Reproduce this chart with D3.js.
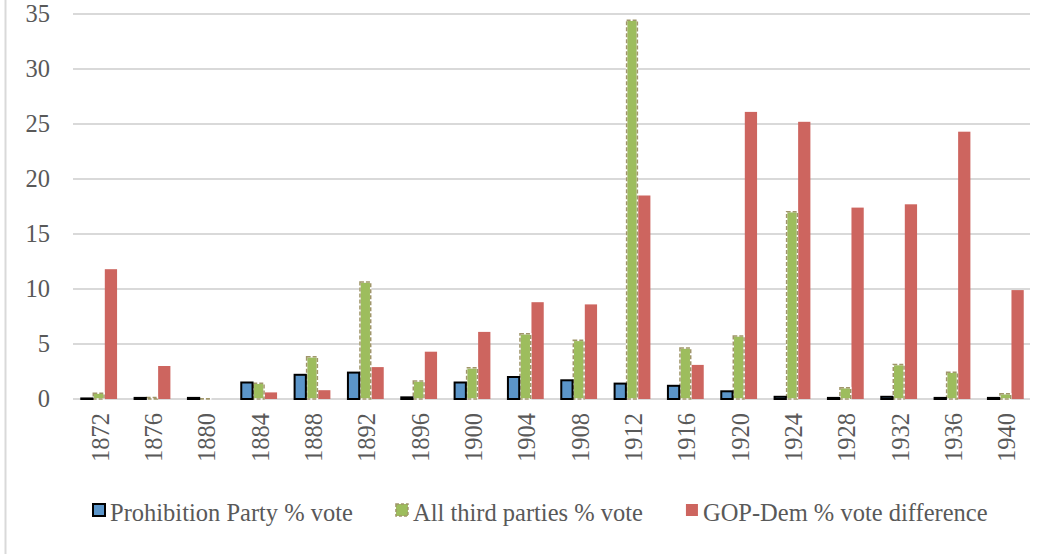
<!DOCTYPE html>
<html>
<head>
<meta charset="utf-8">
<script src="https://cdn.jsdelivr.net/npm/d3@7"></script>
<style>
  body { margin: 0; background: #fff; }
  svg text { font-family: "Liberation Serif", "Times New Roman", serif; fill: #595959; }
</style>
</head>
<body>
<div id="chart"></div>
<script>
// Election years
const years = ['1872', '1876', '1880', '1884', '1888', '1892', '1896', '1900', '1904',
  '1908', '1912', '1916', '1920', '1924', '1928', '1932', '1936', '1940'];

// Series values (% of vote)
const prohibitionVote = [0.05, 0.1, 0.1, 1.5, 2.2, 2.4, 0.15, 1.5, 2.0,
  1.7, 1.4, 1.2, 0.7, 0.2, 0.1, 0.2, 0.1, 0.1];
const thirdPartyVote = [0.6, 0.2, 0.1, 1.5, 3.9, 10.7, 1.7, 2.9, 6.0,
  5.4, 34.5, 4.7, 5.8, 17.1, 1.1, 3.2, 2.5, 0.55];
const gopDemDiff = [11.8, 3.0, 0, 0.6, 0.8, 2.9, 4.3, 6.1, 8.8,
  8.6, 18.5, 3.1, 26.1, 25.2, 17.4, 17.7, 24.3, 9.9];

const seriesNames = ['Prohibition Party % vote', 'All third parties % vote', 'GOP-Dem % vote difference'];
const yTicks = [0, 5, 10, 15, 20, 25, 30, 35];

class GroupedBars {
  constructor(_config) {
    this.config = {
      parentElement: _config.parentElement,
      containerWidth: 1062,
      containerHeight: 554,
      plotLeft: 72,
      plotRight: 1032,
      plotTop: 14,
      plotBottom: 399,
    };
    this.initVis();
  }

  initVis() {
    let vis = this;
    const c = vis.config;

    vis.svg = d3.select(c.parentElement)
      .append('svg')
      .attr('width', c.containerWidth)
      .attr('height', c.containerHeight);

    // chart-area border on the left
    vis.svg.append('line')
      .attr('x1', 5.5).attr('x2', 5.5)
      .attr('y1', 0).attr('y2', c.containerHeight)
      .attr('stroke', '#d9d9d9')
      .attr('stroke-width', 2);

    vis.xScale = d3.scaleBand()
      .domain(years)
      .range([c.plotLeft, c.plotRight])
      .paddingInner(0.31)
      .paddingOuter(0.155);

    vis.xSub = d3.scaleBand()
      .domain(d3.range(3))
      .range([0, vis.xScale.bandwidth()]);

    vis.yScale = d3.scaleLinear()
      .domain([0, 35])
      .range([c.plotBottom, c.plotTop]);

    vis.data = years.map((y, i) => ({
      year: y,
      values: [prohibitionVote[i], thirdPartyVote[i], gopDemDiff[i]]
    }));

    vis.renderVis();
  }

  renderVis() {
    let vis = this;
    const c = vis.config;

    // gridlines
    vis.svg.append('g')
      .selectAll('line')
      .data(yTicks)
      .join('line')
      .attr('x1', c.plotLeft + 1)
      .attr('x2', c.plotRight - 2)
      .attr('y1', d => vis.yScale(d))
      .attr('y2', d => vis.yScale(d))
      .attr('stroke', '#d9d9d9')
      .attr('stroke-width', 2);

    // y tick labels
    vis.svg.append('g')
      .selectAll('text')
      .data(yTicks)
      .join('text')
      .attr('x', 50)
      .attr('y', d => vis.yScale(d))
      .attr('dy', '0.34em')
      .attr('text-anchor', 'end')
      .attr('font-size', '24.5px')
      .text(d => d);

    // x tick labels, rotated
    vis.svg.append('g')
      .selectAll('text')
      .data(years)
      .join('text')
      .attr('transform', d => `translate(${vis.xScale(d) + vis.xScale.bandwidth() / 2 + 1.5},413) rotate(-90)`)
      .attr('dy', '0.34em')
      .attr('text-anchor', 'end')
      .attr('font-size', '24.5px')
      .text(d => d);

    const groups = vis.svg.append('g')
      .selectAll('g')
      .data(vis.data)
      .join('g')
      .attr('transform', d => `translate(${vis.xScale(d.year)},0)`);

    const y0 = vis.yScale(0);
    const bw = vis.xSub.bandwidth();

    // red: GOP-Dem difference
    groups.append('rect')
      .attr('x', vis.xSub(2))
      .attr('width', bw)
      .attr('y', d => vis.yScale(d.values[2]))
      .attr('height', d => y0 - vis.yScale(d.values[2]))
      .attr('fill', '#cd655f');

    // green: all third parties, dashed outline
    groups.append('rect')
      .attr('x', vis.xSub(1) + 0.75)
      .attr('width', bw - 1.5)
      .attr('y', d => vis.yScale(d.values[1]) + 0.75)
      .attr('height', d => Math.max(0, y0 - vis.yScale(d.values[1]) - 0.75))
      .attr('fill', '#9dbd5d')
      .attr('stroke', '#ffffff')
      .attr('stroke-width', 1.5);
    groups.append('rect')
      .attr('x', vis.xSub(1) + 0.75)
      .attr('width', bw - 1.5)
      .attr('y', d => vis.yScale(d.values[1]) + 0.75)
      .attr('height', d => Math.max(0, y0 - vis.yScale(d.values[1]) - 0.75))
      .attr('fill', 'none')
      .attr('stroke', '#a0966a')
      .attr('stroke-width', 1.5)
      .attr('stroke-dasharray', '4,2');

    // blue: prohibition, black outline
    groups.append('rect')
      .attr('x', vis.xSub(0) + 1)
      .attr('width', bw - 1)
      .attr('y', d => vis.yScale(d.values[0]))
      .attr('height', d => y0 - vis.yScale(d.values[0]))
      .attr('fill', '#5b95c9')
      .attr('stroke', '#000')
      .attr('stroke-width', 2);

    // legend
    const legend = vis.svg.append('g');
    let lx = 93;
    seriesNames.forEach((name, i) => {
      const item = legend.append('g');
      const sw = item.append('rect')
        .attr('x', lx).attr('y', 504)
        .attr('width', 12).attr('height', 12);
      if (i === 0) sw.attr('fill', '#5b95c9').attr('stroke', '#000').attr('stroke-width', 2);
      if (i === 1) sw.attr('fill', '#9dbd5d').attr('stroke', '#a0966a').attr('stroke-width', 1.5).attr('stroke-dasharray', '3,2');
      if (i === 2) sw.attr('fill', '#cd655f');
      const t = item.append('text')
        .attr('x', lx + 17)
        .attr('y', 521)
        .attr('font-size', '24.5px')
        .text(name);
      lx += 17 + t.node().getComputedTextLength() + 43;
    });
  }
}

const chart = new GroupedBars({ parentElement: '#chart' });
</script>
</body>
</html>
